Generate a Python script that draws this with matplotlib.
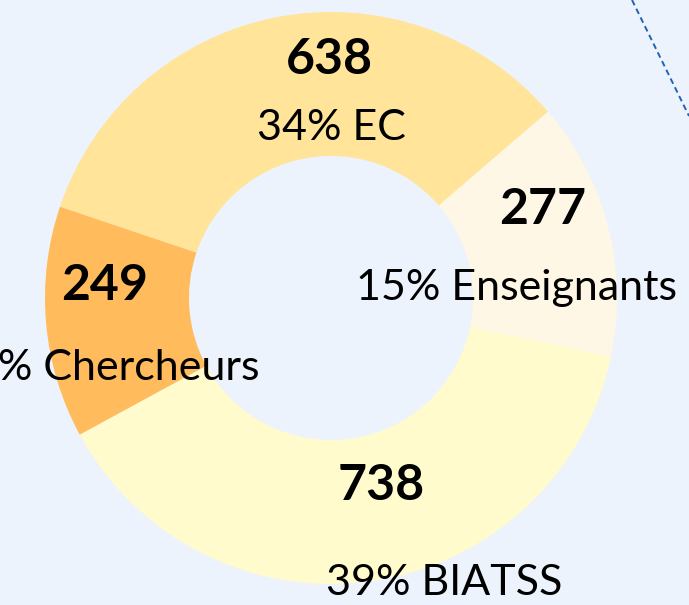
import matplotlib
matplotlib.use("Agg")
import matplotlib.pyplot as plt
from matplotlib.lines import Line2D

categories = ["EC", "Enseignants", "BIATSS", "Chercheurs"]
values = [638, 277, 738, 249]
colors = ["#FFE499", "#FFF7E5", "#FFFBCC", "#FFBB5C"]

# label positions (pixel offsets from donut centre; y up)
value_pos = [(-2, 238), (212, 88), (50, -188), (-226, 12)]
pct_pos = [(0, 170), (185, 10), (113, -285), (-227, -70)]

W, H = 689, 605
bg = "#EDF3FC"
fig = plt.figure(figsize=(W / 100, H / 100), dpi=100, facecolor=bg)
ax = fig.add_axes([0, 0, 1, 1])
ax.set_facecolor(bg)

cx, cy, R = 331, 307, 286
ax.pie(values, colors=colors, startangle=161.4, counterclock=False,
       center=(cx, cy), radius=R, wedgeprops=dict(width=144, linewidth=0),
       frame=True)
ax.set_xlim(0, W)
ax.set_ylim(0, H)
ax.set_aspect("equal")
ax.axis("off")

total = sum(values)
for cat, v, (vx, vy), (px, py) in zip(categories, values, value_pos, pct_pos):
    ax.text(cx + vx, cy + vy, f"{v}", ha="center", va="center",
            fontsize=36, fontweight="bold", family="Lato", color="black")
    ax.text(cx + px, cy + py, f"{round(100 * v / total)}% {cat}", ha="center",
            va="center", fontsize=31, family="Lato", color="black")

fig.add_artist(Line2D([632 / W, 689 / W], [1, 1 - 116 / H],
                      transform=fig.transFigure, color="#1F63B5",
                      linewidth=1.4, linestyle=(0, (3, 2))))

fig.savefig("out.png", dpi=100, facecolor=bg)
